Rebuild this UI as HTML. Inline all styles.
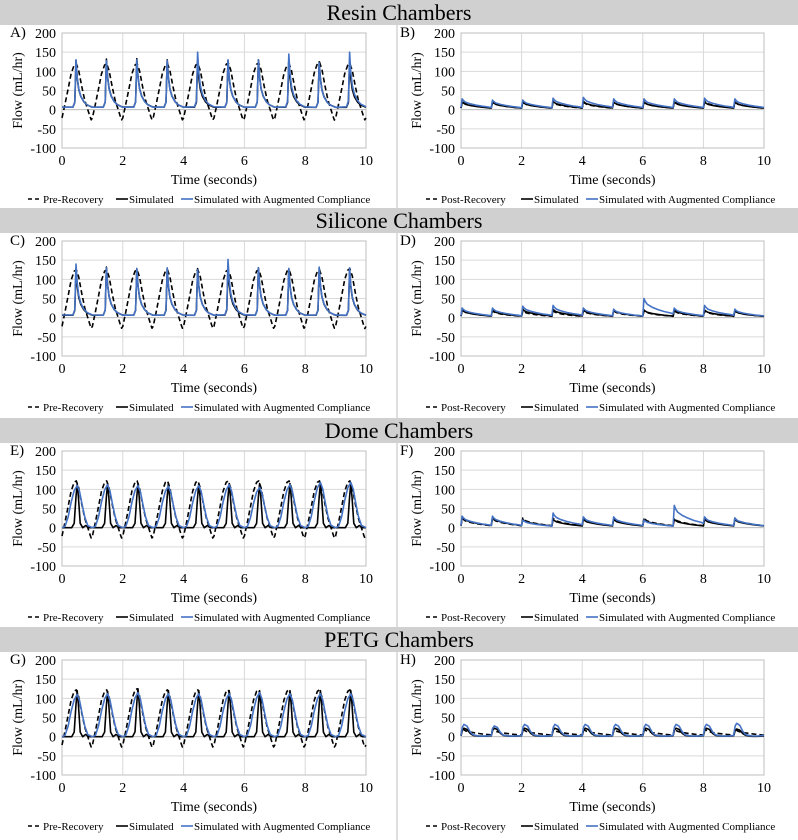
<!DOCTYPE html>
<html><head><meta charset="utf-8"><style>
html,body{margin:0;padding:0;background:#fff}
svg{display:block;font-family:"Liberation Serif",serif}
</style></head><body>
<svg id="fig" width="798" height="840" viewBox="0 0 798 840" xmlns="http://www.w3.org/2000/svg"></svg>
<script>
// ---- data ----
const xTicks = [0,2,4,6,8,10];
const yTicks = [200,150,100,50,0,-50,-100];
const sectionTitles = ["Resin Chambers","Silicone Chambers","Dome Chambers","PETG Chambers"];
const panelLetters = [["A)","B)"],["C)","D)"],["E)","F)"],["G)","H)"]];
// one-cycle shape templates (phase within 1 s cycle, normalized value)
const prePhase = [0,0.1,0.2,0.3,0.4,0.47,0.55,0.65,0.75,0.85,0.92,0.96,1.0];
const preShape = [-0.18,0.12,0.45,0.78,0.97,1.0,0.85,0.5,0.2,0.0,-0.15,-0.22,-0.18];
const spikePhase = [0,0.36,0.42,0.46,0.5,0.55,0.62,0.72,0.82,0.92,1.0];
const spikeShape = [0.05,0.05,0.15,1.0,0.65,0.42,0.27,0.16,0.1,0.07,0.05];
const narrowPhase = [0,0.32,0.4,0.46,0.5,0.54,0.6,0.68,0.78,0.88,1.0];
const narrowShape = [0,0,0.1,0.7,1.0,0.7,0.1,0,0.05,0,0];
const broadPhase = [0,0.1,0.2,0.3,0.4,0.5,0.58,0.66,0.75,0.85,1.0];
const broadShape = [0,0.03,0.25,0.6,0.88,1.0,0.85,0.55,0.25,0.05,0];
const sawPhase = [0,0.04,0.08,0.15,0.3,0.5,0.7,0.9,1.0];
const sawShape = [0.2,1.0,0.85,0.7,0.55,0.42,0.32,0.25,0.2];
const bumpPhase = [0,0.05,0.1,0.2,0.3,0.4,0.6,0.8,1.0];
const bumpShape = [0.1,0.8,1.0,0.85,0.4,0.15,0.05,0.05,0.1];
// per-cycle peaks (10 cycles)
const A_pre = [120,120,120,120,120,122,122,120,124,120];
const A_sim = [128,132,133,130,128,128,130,128,125,125];
const A_aug = [130,128,130,128,150,130,130,145,122,150];
const B_pre = [22,20,20,20,20,20,20,22,22,20];
const B_sim = [20,20,20,22,22,20,20,20,20,20];
const B_aug = [28,25,25,30,32,28,28,28,30,28];
const C_pre = [125,125,125,125,125,125,125,125,125,128];
const C_sim = [128,132,128,128,128,135,130,128,130,125];
const C_aug = [140,130,128,130,125,152,130,128,132,130];
const D_pre = [20,18,18,18,18,18,18,18,18,18];
const D_sim = [20,20,22,22,20,20,20,20,20,18];
const D_aug = [25,25,30,32,25,22,50,25,32,22];
const E_pre = [122,122,122,122,122,122,122,122,122,122];
const E_sim = [115,115,115,115,115,115,115,115,115,115];
const E_aug = [110,112,110,108,110,112,105,112,118,118];
const F_pre = [25,25,25,25,25,25,25,25,25,25];
const F_sim = [28,28,22,22,22,22,22,22,22,22];
const F_aug = [30,30,20,38,28,28,20,58,28,25];
const G_pre = [122,122,125,122,122,122,122,122,122,122];
const G_sim = [120,118,125,120,120,120,120,120,120,120];
const G_aug = [110,112,115,112,112,112,115,112,112,112];
const H_pre = [22,20,20,20,20,20,20,20,20,20];
const H_sim = [22,22,22,22,22,22,22,22,22,20];
const H_aug = [32,28,32,32,32,32,32,32,32,35];

const panels = [
 {pre:A_pre,sim:A_sim,aug:A_aug,st:[spikePhase,spikeShape],at:[spikePhase,spikeShape],pt:[prePhase,preShape],label:"Pre-Recovery"},
 {pre:B_pre,sim:B_sim,aug:B_aug,st:[sawPhase,sawShape],at:[sawPhase,sawShape],pt:[sawPhase,sawShape],label:"Post-Recovery"},
 {pre:C_pre,sim:C_sim,aug:C_aug,st:[spikePhase,spikeShape],at:[spikePhase,spikeShape],pt:[prePhase,preShape],label:"Pre-Recovery"},
 {pre:D_pre,sim:D_sim,aug:D_aug,st:[sawPhase,sawShape],at:[sawPhase,sawShape],pt:[sawPhase,sawShape],label:"Post-Recovery"},
 {pre:E_pre,sim:E_sim,aug:E_aug,st:[narrowPhase,narrowShape],at:[broadPhase,broadShape],pt:[prePhase,preShape],label:"Pre-Recovery"},
 {pre:F_pre,sim:F_sim,aug:F_aug,st:[sawPhase,sawShape],at:[sawPhase,sawShape],pt:[sawPhase,sawShape],label:"Post-Recovery"},
 {pre:G_pre,sim:G_sim,aug:G_aug,st:[narrowPhase,narrowShape],at:[broadPhase,broadShape],pt:[prePhase,preShape],label:"Pre-Recovery"},
 {pre:H_pre,sim:H_sim,aug:H_aug,st:[bumpPhase,bumpShape],at:[bumpPhase,bumpShape],pt:[sawPhase,sawShape],label:"Post-Recovery"}
];

const NS="http://www.w3.org/2000/svg";
const svg=document.getElementById('fig');
function mk(tag,attrs,parent){const e=document.createElementNS(NS,tag);for(const k in attrs)e.setAttribute(k,attrs[k]);(parent||svg).appendChild(e);return e;}
const offsets=[0,208,418,627];
const div=mk('line',{x1:397,y1:25,x2:397,y2:840,stroke:'#bfbfbf','stroke-width':1});



offsets.forEach((off,r)=>{
  const bar=mk('rect',{x:0,y:off,width:798,height:25,fill:'#d0d0d0'});
  
  
  const t=mk('text',{x:399,y:off+20,'text-anchor':'middle','font-size':22,fill:'#000'});
  t.textContent=sectionTitles[r];
  
  
  [0,1].forEach(c=>{
    const p=panels[r*2+c];
    const L=c?461:62, R=c?764:366, T=off+33, B=off+148;
    const g=mk('g',{});
    
    
    const X=v=>L+(v-0)/10*(R-L);
    const Y=v=>T+(200-v)/300*(B-T);
    yTicks.forEach(v=>{
      const gl=mk('line',{x1:L,x2:R,y1:Y(v),y2:Y(v),stroke:'#d9d9d9','stroke-width':1},g);
      
      
      const tl=mk('text',{x:L-6,y:Y(v)+5,'text-anchor':'end','font-size':14},g);
      tl.textContent=v;
      
      
    });
    xTicks.forEach(v=>{
      const gl=mk('line',{x1:X(v),x2:X(v),y1:T,y2:B,stroke:'#d9d9d9','stroke-width':1},g);
      
      
      const tl=mk('text',{x:X(v),y:B+17,'text-anchor':'middle','font-size':14},g);
      tl.textContent=v;
      
      
    });
    const zl=mk('line',{x1:L,x2:R,y1:Y(0),y2:Y(0),stroke:'#bfbfbf','stroke-width':1},g);
    
    
    const bd=mk('rect',{x:L,y:T,width:R-L,height:B-T,fill:'none',stroke:'#bfbfbf','stroke-width':1},g);
    
    
    const lt=mk('text',{x:c?400:10,y:T+4,'font-size':15},g);
    lt.textContent=panelLetters[r][c];
    
    
    const yt=mk('text',{x:0,y:0,'text-anchor':'middle','font-size':14,transform:`translate(${L-40},${(T+B)/2}) rotate(-90)`},g);
    yt.textContent="Flow (mL/hr)";
    
    
    const xt=mk('text',{x:(L+R)/2,y:off+184,'text-anchor':'middle','font-size':14},g);
    xt.textContent="Time (seconds)";
    
    
    function series(peaks,tpl,color,w,dash,name){
      const pts=[];
      for(let k=0;k<peaks.length;k++){
        tpl[0].forEach((ph,i)=>{ if(k>0&&i===0) return; pts.push([X(k+ph),Y(peaks[k]*tpl[1][i])]); });
      }
      const pl=mk('polyline',{points:pts.map(q=>q[0].toFixed(1)+','+q[1].toFixed(1)).join(' '),fill:'none',stroke:color,'stroke-width':w,'stroke-linejoin':'round'},g);
      if(dash) pl.setAttribute('stroke-dasharray',dash);
      
      
    }
    series(p.pre,p.pt,'#000',1.6,'5,3',p.label==='Pre-Recovery'?'pre-recovery-line':'post-recovery-line');
    series(p.sim,p.st,'#000',1.6,null,'simulated-line');
    series(p.aug,p.at,'#4472c4',1.6,null,'augmented-compliance-line');
    const lx=c?426:28, ly=off+203;
    const lg=mk('g',{},g);
    
    
    mk('line',{x1:lx,x2:lx+14,y1:ly-4,y2:ly-4,stroke:'#000','stroke-width':1.6,'stroke-dasharray':'4,3'},lg);
    const t1=mk('text',{x:lx+15,y:ly,'font-size':11},lg);t1.textContent=p.label;
    
    
    const x2=lx+15+(c?80:73);
    mk('line',{x1:x2,x2:x2+12,y1:ly-4,y2:ly-4,stroke:'#000','stroke-width':1.6},lg);
    const t2=mk('text',{x:x2+13,y:ly,'font-size':11},lg);t2.textContent="Simulated";
    
    
    const x3=x2+13+52;
    mk('line',{x1:x3,x2:x3+12,y1:ly-4,y2:ly-4,stroke:'#4472c4','stroke-width':1.6},lg);
    const t3=mk('text',{x:x3+13,y:ly,'font-size':11},lg);t3.textContent="Simulated with Augmented Compliance";
    
    
  });
});
</script>
</body></html>
